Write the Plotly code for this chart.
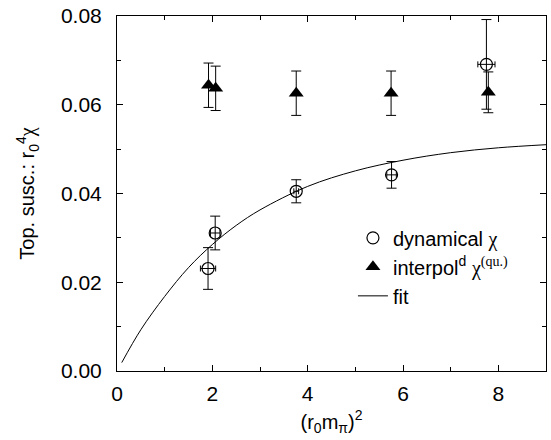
import plotly.graph_objects as go

# dynamical chi (open circles)
dyn_x = [1.91, 2.06, 3.76, 5.76, 7.75]
dyn_y = [0.0231, 0.0311, 0.0405, 0.0442, 0.0691]
dyn_yerr = [0.0047, 0.0038, 0.0026, 0.0030, 0.0101]
dyn_xerr = [0.16, 0.10, 0.05, 0.10, 0.18]

# interpolated quenched chi (filled triangles)
int_x = [1.92, 2.07, 3.76, 5.75, 7.79]
int_y = [0.0644, 0.0637, 0.0626, 0.0626, 0.0628]
int_yerr = [0.0050, 0.0050, 0.0050, 0.0050, 0.0046]

# fit curve
fit_x = [0.1, 0.5, 1.0, 1.5, 2.0, 2.5, 3.0, 4.0, 5.0, 6.0, 7.0, 8.0, 9.0]
fit_y = [0.0019, 0.0093, 0.0168, 0.0233, 0.0285, 0.0328, 0.0363, 0.0416,
         0.0451, 0.0475, 0.0492, 0.0503, 0.0510]

x_ticks = [0, 2, 4, 6, 8]
y_ticks = [0.00, 0.02, 0.04, 0.06, 0.08]

FONT = "Liberation Sans, Arial, Helvetica, sans-serif"
SERIF = "Liberation Serif, Times New Roman, serif"

fig = go.Figure()

fig.add_trace(go.Scatter(
    x=dyn_x, y=dyn_y, mode="markers",
    name=f"dynamical <span style='font-family:{SERIF}'>χ</span>",
    marker=dict(symbol="circle-open", size=12, color="black", line=dict(width=1.2)),
    error_y=dict(type="data", array=dyn_yerr, color="black", thickness=1, width=5),
    error_x=dict(type="data", array=dyn_xerr, color="black", thickness=1, width=3),
))

fig.add_trace(go.Scatter(
    x=int_x, y=int_y, mode="markers",
    name=f"interpol<sup>d</sup> <span style='font-family:{SERIF}'>χ<sup>(qu.)</sup></span>",
    marker=dict(symbol="triangle-up", size=13, color="black"),
    error_y=dict(type="data", array=int_yerr, color="black", thickness=1, width=5),
))

fig.add_trace(go.Scatter(
    x=fit_x, y=fit_y, mode="lines", name="fit",
    line=dict(color="black", width=1, shape="spline"),
))

axis_common = dict(
    showline=True, linecolor="black", linewidth=1, mirror="ticks",
    ticks="inside", ticklen=6, tickcolor="black", tickwidth=1,
    showgrid=False, zeroline=False,
    tickfont=dict(family=FONT, size=21, color="black"),
)

fig.update_xaxes(
    range=[0, 9], tickvals=x_ticks, ticktext=[str(v) for v in x_ticks],
    ticklabelstandoff=4,
    minor=dict(ticks="inside", ticklen=4, tickcolor="black", dtick=1, tick0=0),
    title=dict(text="(r<sub>0</sub>m<sub>π</sub>)<sup>2</sup>",
               font=dict(family=FONT, size=20, color="black"), standoff=10),
    **axis_common,
)
fig.update_yaxes(
    range=[0, 0.08], tickvals=y_ticks, ticktext=[f"{v:.2f}" for v in y_ticks],
    ticklabelstandoff=10,
    minor=dict(ticks="inside", ticklen=4, tickcolor="black", dtick=0.01, tick0=0),
    title=dict(text=f"Top. susc.: r<sub>0</sub><sup>4</sup><span style='font-family:{SERIF}'>χ</span>",
               font=dict(family=FONT, size=20, color="black"), standoff=20),
    **axis_common,
)

fig.update_layout(
    width=551, height=440,
    margin=dict(l=117, r=4, t=13, b=69),
    paper_bgcolor="white", plot_bgcolor="white",
    font=dict(family=FONT, size=20, color="black"),
    showlegend=True,
    legend=dict(x=0.55, y=0.43, xanchor="left", yanchor="top",
                bgcolor="rgba(0,0,0,0)", font=dict(family=FONT, size=20, color="black"),
                tracegroupgap=0, itemwidth=30),
)

fig.write_html("out.html")
